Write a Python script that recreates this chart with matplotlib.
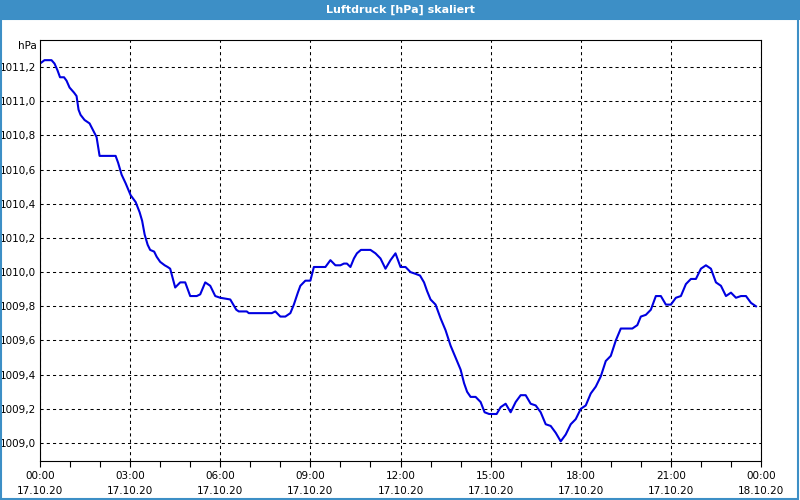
import matplotlib
matplotlib.use("Agg")
import matplotlib.pyplot as plt
import matplotlib.dates as mdates
from matplotlib.patches import Rectangle
from matplotlib.ticker import MultipleLocator, FuncFormatter
import pandas as pd

# Minuten seit 17.10.20 00:00 und Luftdruck (hPa)
minuten = [
    0, 9, 23, 29, 35, 40, 48, 53, 59, 68, 73, 77, 81, 89, 99, 106, 113, 119,
    151, 156, 163, 171, 181, 191, 199, 204, 209, 215, 220, 228, 233, 240, 249,
    255, 260, 270, 280, 290, 300, 313, 320, 330, 340, 350, 360, 380, 392, 397,
    413, 417, 453, 463, 470, 480, 490, 500, 507, 515, 520, 530, 540, 547, 570,
    580, 590, 600, 607, 613, 620, 627, 633, 641, 660, 670, 680, 690, 700, 710,
    720, 730, 740, 750, 759, 767, 773, 780, 790, 800, 810, 820, 830, 840, 847,
    853, 860, 870, 880, 888, 897, 912, 920, 930, 940, 950, 960, 970, 980, 990,
    1000, 1010, 1020, 1030, 1040, 1050, 1060, 1070, 1080, 1090, 1100, 1110,
    1120, 1130, 1140, 1150, 1160, 1183, 1193, 1200, 1210, 1220, 1230, 1240,
    1250, 1260, 1270, 1280, 1290, 1300, 1310, 1320, 1330, 1340, 1350, 1360,
    1370, 1380, 1390, 1400, 1410, 1420, 1430,
]
druck = [
    1011.22, 1011.24, 1011.24, 1011.22, 1011.18, 1011.14, 1011.14, 1011.12,
    1011.08, 1011.05, 1011.03, 1010.95, 1010.92, 1010.89, 1010.87, 1010.83,
    1010.79, 1010.68, 1010.68, 1010.64, 1010.57, 1010.52, 1010.45, 1010.41,
    1010.35, 1010.30, 1010.22, 1010.16, 1010.13, 1010.12, 1010.09, 1010.06,
    1010.04, 1010.03, 1010.02, 1009.91, 1009.94, 1009.94, 1009.86, 1009.86,
    1009.87, 1009.94, 1009.92, 1009.86, 1009.85, 1009.84, 1009.78, 1009.77,
    1009.77, 1009.76, 1009.76, 1009.76, 1009.77, 1009.74, 1009.74, 1009.76,
    1009.81, 1009.88, 1009.92, 1009.95, 1009.95, 1010.03, 1010.03, 1010.07,
    1010.04, 1010.04, 1010.05, 1010.05, 1010.03, 1010.08, 1010.11, 1010.13,
    1010.13, 1010.11, 1010.08, 1010.02, 1010.07, 1010.11, 1010.03, 1010.03,
    1010.00, 1009.99, 1009.98, 1009.94, 1009.89, 1009.84, 1009.81, 1009.73,
    1009.66, 1009.57, 1009.50, 1009.43, 1009.35, 1009.30, 1009.27, 1009.27,
    1009.24, 1009.18, 1009.17, 1009.17, 1009.21, 1009.23, 1009.18, 1009.24,
    1009.28, 1009.28, 1009.23, 1009.22, 1009.18, 1009.11, 1009.10, 1009.06,
    1009.01, 1009.05, 1009.11, 1009.14, 1009.20, 1009.22, 1009.29, 1009.33,
    1009.39, 1009.48, 1009.51, 1009.60, 1009.67, 1009.67, 1009.69, 1009.74,
    1009.75, 1009.78, 1009.86, 1009.86, 1009.81, 1009.81, 1009.85, 1009.86,
    1009.93, 1009.96, 1009.96, 1010.02, 1010.04, 1010.02, 1009.94, 1009.92,
    1009.86, 1009.88, 1009.85, 1009.86, 1009.86, 1009.82, 1009.80,
]

titel = "Luftdruck [hPa] skaliert"
einheit = "hPa"

start = pd.Timestamp("2020-10-17 00:00")
zeit = [start + pd.Timedelta(minutes=m) for m in minuten]

blau_rahmen = "#3d8fc6"

fig = plt.figure(figsize=(8, 5), dpi=100)
fig.patch.set_facecolor("white")

# Titelleiste und Rahmen
fig.add_artist(Rectangle((0, 0.96), 1, 0.04, transform=fig.transFigure,
                         facecolor=blau_rahmen, edgecolor="none"))
fig.add_artist(Rectangle((0.001, 0.003), 0.997, 0.96, transform=fig.transFigure,
                         facecolor="none", edgecolor=blau_rahmen, linewidth=1.5))
fig.text(0.5, 0.98, titel, color="white", fontsize=8, fontweight="bold",
         ha="center", va="center")

ax = fig.add_axes([40 / 800, 1 - 461 / 500, 721 / 800, 421 / 500])
ax.plot(zeit, druck, color="#0000e0", linewidth=1.5)

ax.set_xlim(start, start + pd.Timedelta(hours=24))
ax.set_ylim(1008.895, 1011.358)

ax.xaxis.set_major_locator(mdates.HourLocator(byhour=range(0, 24, 3)))
ax.xaxis.set_minor_locator(mdates.HourLocator())
ax.xaxis.set_major_formatter(mdates.DateFormatter("%H:%M\n%d.%m.%y"))
ax.yaxis.set_major_locator(MultipleLocator(0.2))
ax.yaxis.set_major_formatter(FuncFormatter(lambda v, p: f"{v:.1f}".replace(".", ",")))

ax.grid(True, which="major", color="black", linestyle=(0, (3, 3)), linewidth=0.75)
ax.tick_params(axis="x", which="both", direction="out", length=4, width=0.8,
               labelsize=7.5, pad=3)
ax.tick_params(axis="y", length=0, labelsize=7.5, pad=3)
for lbl in ax.get_xticklabels():
    lbl.set_linespacing(1.6)

for s in ax.spines.values():
    s.set_color("black")
    s.set_linewidth(0.8)

fig.text(37 / 800, 1 - 46 / 500, einheit, fontsize=7.5, ha="right", va="center")

fig.savefig("out.png", dpi=100)
